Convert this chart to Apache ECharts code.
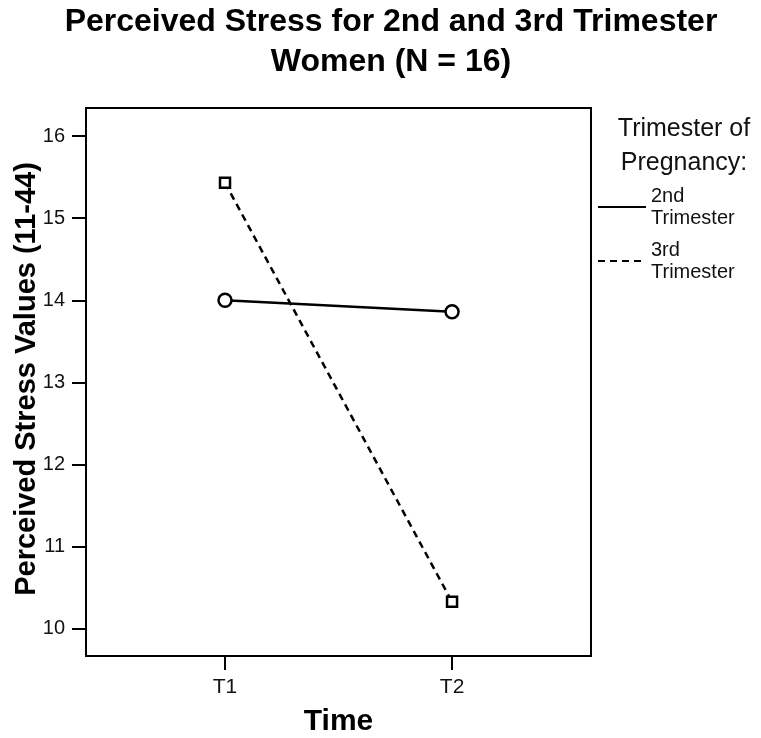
<!DOCTYPE html>
<html>
<head>
<meta charset="utf-8">
<script src="https://cdn.jsdelivr.net/npm/echarts@6/dist/echarts.min.js"></script>
<style>
  html, body { margin: 0; padding: 0; background: #fff; }
  #chart { width: 761px; height: 738px; }
</style>
</head>
<body>
<div id="chart"></div>
<script>
// values
const timePoints = ['T1', 'T2']
const yTicks = [10, 11, 12, 13, 14, 15, 16]
const secondTrimester = [14.0, 13.86]
const thirdTrimester = [15.43, 10.33]

const FONT = '"Liberation Sans", Arial, sans-serif'
const toPoints = (vals) => vals.map((v, i) => [i + 1, v])

const chart = echarts.init(document.getElementById('chart'))

chart.setOption({
  animation: false,
  backgroundColor: '#fff',
  textStyle: { fontFamily: FONT, color: '#000' },
  graphic: [
    {
      type: 'text', x: 391, y: 2,
      style: {
        text: 'Perceived Stress for 2nd and 3rd Trimester\nWomen (N = 16)',
        font: 'bold 32px ' + FONT, fill: '#000', align: 'center', lineHeight: 40
      }
    },
    {
      type: 'text', x: 684, y: 112,
      style: {
        text: 'Trimester of\nPregnancy:',
        font: '25px ' + FONT, fill: '#111', align: 'center', lineHeight: 34
      }
    }
  ],
  legend: {
    orient: 'vertical',
    left: 597,
    top: 185,
    padding: 0,
    itemWidth: 48,
    itemHeight: 14,
    itemGap: 10,
    itemStyle: { opacity: 0 },
    textStyle: { fontFamily: FONT, fontSize: 20, lineHeight: 22, color: '#111' },
    data: ['2nd\nTrimester', '3rd\nTrimester']
  },
  grid: {
    left: 86, top: 108, width: 505, height: 548,
    outerBoundsMode: 'none',
    show: true, borderColor: '#000', borderWidth: 2
  },
  xAxis: {
    type: 'value',
    min: 0.3877,
    max: 2.612,
    name: 'Time',
    nameLocation: 'middle',
    nameGap: 51,
    nameMoveOverlap: false,
    nameTextStyle: { fontFamily: FONT, fontSize: 30, fontWeight: 'bold', color: '#000' },
    axisLine: { show: true, lineStyle: { color: '#000', width: 2 } },
    axisTick: { show: true, length: 14, customValues: [1, 2], lineStyle: { color: '#000', width: 2 } },
    axisLabel: {
      customValues: [1, 2],
      margin: 21,
      fontSize: 21,
      color: '#111',
      formatter: (v) => timePoints[Math.round(v) - 1] || ''
    },
    splitLine: { show: false }
  },
  yAxis: {
    type: 'value',
    min: 9.671,
    max: 16.341,
    name: 'Perceived Stress Values (11-44)',
    nameLocation: 'middle',
    nameGap: 45,
    nameMoveOverlap: false,
    nameTextStyle: { fontFamily: FONT, fontSize: 29, fontWeight: 'bold', color: '#000', padding: [0, 0, 0, 6] },
    axisLine: { show: true, lineStyle: { color: '#000', width: 2 } },
    axisTick: { show: true, length: 14, customValues: yTicks, lineStyle: { color: '#000', width: 2 } },
    axisLabel: { customValues: yTicks, margin: 21, fontSize: 20, color: '#111' },
    splitLine: { show: false }
  },
  series: [
    {
      name: '2nd\nTrimester',
      type: 'line',
      data: toPoints(secondTrimester),
      symbol: 'circle',
      symbolSize: 13,
      itemStyle: { color: '#fff', borderColor: '#000', borderWidth: 2.5 },
      lineStyle: { color: '#000', width: 2.5, type: 'solid' },
      z: 3
    },
    {
      name: '3rd\nTrimester',
      type: 'line',
      data: toPoints(thirdTrimester),
      symbol: 'rect',
      symbolSize: 10,
      itemStyle: { color: '#fff', borderColor: '#000', borderWidth: 2.5 },
      lineStyle: { color: '#000', width: 2.5, type: [7, 5] },
      z: 2
    }
  ]
})

window.addEventListener('resize', () => chart.resize())
</script>
</body>
</html>
